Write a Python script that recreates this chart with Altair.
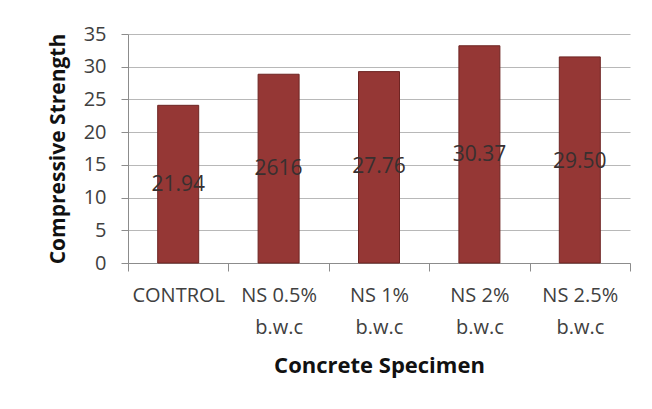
import altair as alt
import pandas as pd

categories = ["CONTROL", "NS 0.5%\nb.w.c", "NS 1%\nb.w.c", "NS 2%\nb.w.c", "NS 2.5%\nb.w.c"]
strength = [24.1, 28.85, 29.25, 33.2, 31.5]
label_text = ["21.94", "2616", "27.76", "30.37", "29.50"]
label_y = [11.9, 14.4, 14.7, 16.5, 15.5]
y_ticks = [0, 5, 10, 15, 20, 25, 30, 35]

df = pd.DataFrame({
    "cat": categories,
    "val": strength,
    "lab": label_text,
    "ly": label_y,
})

xaxis = alt.Axis(
    title="Concrete Specimen",
    labelExpr="split(datum.label, '\\n')",
    labelAngle=0,
    labelFont="Open Sans",
    labelFontSize=20,
    labelColor="#404040",
    labelLineHeight=32,
    labelPadding=24,
    labelBaseline="middle",
    labelOverlap=False,
    tickBand="extent",
    tickSize=8,
    tickColor="#8c8c8c",
    domainColor="#8c8c8c",
    titleFont="Open Sans",
    titleFontSize=22,
    titleFontWeight="bold",
    titleColor="#111111",
    titlePadding=18,
    grid=False,
)

yaxis = alt.Axis(
    title="Compressive Strength",
    values=y_ticks,
    labelOverlap=False,
    labelFont="Open Sans",
    labelFontSize=20,
    labelColor="#404040",
    labelPadding=15,
    tickSize=7,
    tickColor="#8c8c8c",
    domainColor="#8c8c8c",
    gridColor="#b8b8b8",
    titleFont="Open Sans",
    titleFontSize=21,
    titleFontWeight="bold",
    titleColor="#111111",
    titlePadding=15,
)

xscale = alt.Scale(paddingInner=0, paddingOuter=0)
yscale = alt.Scale(domain=[0, 35], nice=False)

bars = alt.Chart(df).mark_bar(
    size=41, color="#953735", stroke="#6e2523", strokeWidth=1
).encode(
    x=alt.X("cat:N", sort=categories, scale=xscale, axis=xaxis),
    y=alt.Y("val:Q", scale=yscale, axis=yaxis),
)

labels = alt.Chart(df).mark_text(
    font="Open Sans", fontSize=21, color="#383030"
).encode(
    x=alt.X("cat:N", sort=categories, scale=xscale, axis=xaxis),
    y=alt.Y("ly:Q", scale=yscale, axis=yaxis),
    text="lab:N",
)

chart = (bars + labels).properties(
    width=502,
    height=229,
    background="white",
    autosize=alt.AutoSizeParams(type="none"),
    padding={"left": 120, "top": 26, "right": 6, "bottom": 128},
).configure_view(stroke=None)

chart.save("out.html", embed_options={"renderer": "svg", "actions": False})
